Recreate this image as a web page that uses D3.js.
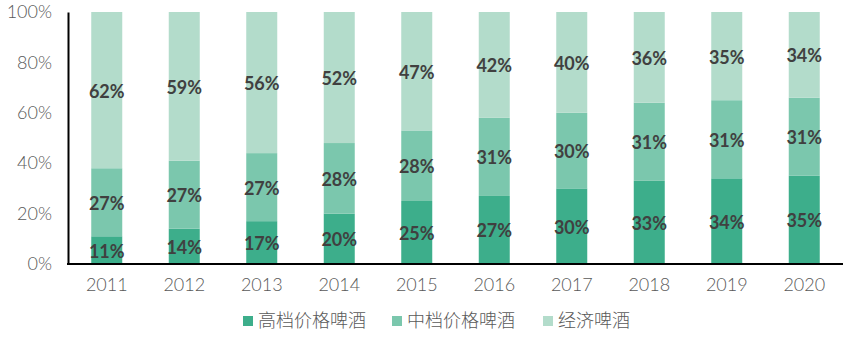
<!DOCTYPE html>
<html>
<head>
<meta charset="utf-8">
<script src="https://cdn.jsdelivr.net/npm/d3@7"></script>
<style>
  body { margin: 0; background: #fff; }
  svg { display: block; }
</style>
</head>
<body>
<script>
const years = ['2011', '2012', '2013', '2014', '2015', '2016', '2017', '2018', '2019', '2020'];
const premium = [11, 14, 17, 20, 25, 27, 30, 33, 34, 35];
const midPrice = [27, 27, 27, 28, 28, 31, 30, 31, 31, 31];
const economy = [62, 59, 56, 52, 47, 42, 40, 36, 35, 34];
const seriesNames = ['高档价格啤酒', '中档价格啤酒', '经济啤酒'];
const yTicks = [0, 20, 40, 60, 80, 100];

const colors = ['#3dae8b', '#7bc7ad', '#b3dccb'];

function chart() {
  const width = 866, height = 352;
  const margin = { top: 12, left: 68, right: 23, bottom: 88 };

  const svg = d3.select('body').append('svg')
    .attr('width', width)
    .attr('height', height);

  const x = d3.scaleBand()
    .domain(years)
    .range([margin.left, width - margin.right])
    .paddingInner(0.6)
    .paddingOuter(0.3);

  const y = d3.scaleLinear()
    .domain([0, 100])
    .range([height - margin.bottom, margin.top]);

  const rows = years.map((yr, i) => ({ year: yr, s0: premium[i], s1: midPrice[i], s2: economy[i] }));
  const stack = d3.stack().keys(['s0', 's1', 's2'])(rows);

  const layers = svg.append('g').selectAll('g')
    .data(stack)
    .join('g')
    .attr('fill', (d, i) => colors[i]);

  layers.selectAll('rect')
    .data(d => d)
    .join('rect')
    .attr('x', d => x(d.data.year))
    .attr('width', x.bandwidth())
    .attr('y', d => y(d[1]))
    .attr('height', d => y(d[0]) - y(d[1]));

  layers.selectAll('text')
    .data(d => d)
    .join('text')
    .attr('x', d => x(d.data.year) + x.bandwidth() / 2)
    .attr('y', d => (y(d[0]) + y(d[1])) / 2 + 1)
    .attr('dy', '0.36em')
    .attr('text-anchor', 'middle')
    .attr('fill', '#404040')
    .style('font-family', 'Lato, sans-serif')
    .style('font-weight', 'bold')
    .style('font-size', '18px')
    .text(d => (d[1] - d[0]) + '%');

  const yAxis = d3.axisLeft(y).tickValues(yTicks).tickSize(0).tickPadding(16).tickFormat(d => d + '%');
  const gy = svg.append('g')
    .attr('transform', `translate(${margin.left},0)`)
    .call(yAxis);
  gy.select('.domain').attr('stroke', '#000').attr('stroke-width', 2);
  gy.selectAll('text')
    .attr('fill', '#595959')
    .style('font-family', 'Lato, sans-serif')
    .style('font-weight', 300)
    .style('font-size', '18px');

  const xAxis = d3.axisBottom(x).tickSize(0).tickPadding(14);
  const gx = svg.append('g')
    .attr('transform', `translate(0,${height - margin.bottom})`)
    .call(xAxis);
  gx.select('.domain').attr('stroke', '#000').attr('stroke-width', 2).attr('d', `M${margin.left - 1},0H${width - margin.right}`);
  gx.selectAll('text')
    .attr('fill', '#595959')
    .style('font-family', 'Lato, sans-serif')
    .style('font-weight', 300)
    .style('font-size', '18px');

  const legendX = [243, 392, 543];
  const legend = svg.append('g').selectAll('g')
    .data(seriesNames)
    .join('g')
    .attr('transform', (d, i) => `translate(${legendX[i]},321)`);
  legend.append('rect')
    .attr('x', 0).attr('y', -5)
    .attr('width', 10).attr('height', 10)
    .attr('fill', (d, i) => colors[i]);
  legend.append('text')
    .attr('x', 15)
    .attr('dy', '0.36em')
    .attr('fill', '#595959')
    .style('font-family', '"Noto Sans CJK SC", sans-serif')
    .style('font-weight', 300)
    .style('font-size', '18px')
    .text(d => d);
}

chart();
</script>
</body>
</html>
